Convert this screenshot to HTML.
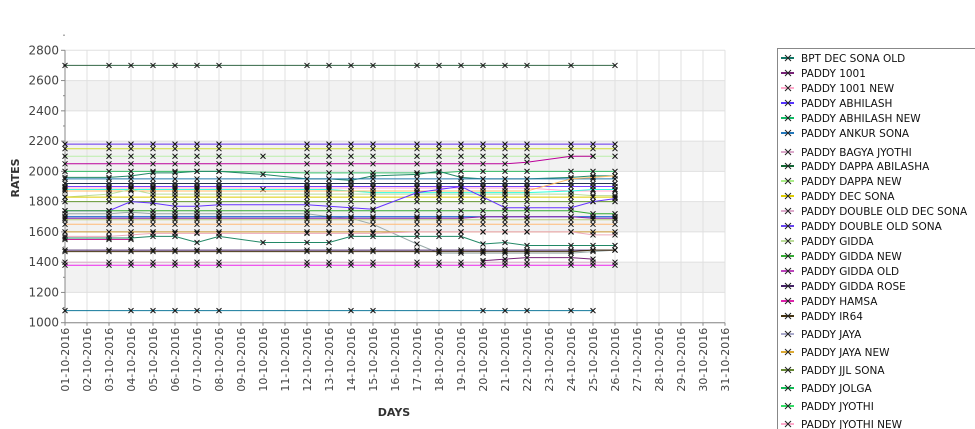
<!DOCTYPE html>
<html><head><meta charset="utf-8"><style>
body{margin:0;background:#fff;width:975px;height:429px;overflow:hidden;font-family:"DejaVu Sans","Liberation Sans",sans-serif}
svg{display:block}
</style></head><body>
<svg id="c" width="975" height="429"></svg>
<script>
const days=[1,3,4,5,6,7,8,10,12,13,14,15,17,18,19,20,21,22,24,25,26];
const xLabels=[];for(let d=1;d<=31;d++)xLabels.push((d<10?'0':'')+d+'-10-2016');
const yTicks=[1000,1200,1400,1600,1800,2000,2200,2400,2600,2800];
const n=null;
const seriesNames=["BPT DEC SONA OLD","PADDY 1001","PADDY 1001 NEW","PADDY ABHILASH","PADDY ABHILASH NEW","PADDY ANKUR SONA","PADDY BAGYA JYOTHI","PADDY DAPPA ABILASHA","PADDY DAPPA NEW","PADDY DEC SONA","PADDY DOUBLE OLD DEC SONA","PADDY DOUBLE OLD SONA","PADDY GIDDA","PADDY GIDDA NEW","PADDY GIDDA OLD","PADDY GIDDA ROSE","PADDY HAMSA","PADDY IR64","PADDY JAYA","PADDY JAYA NEW","PADDY JJL SONA","PADDY JOLGA","PADDY JYOTHI","PADDY JYOTHI NEW"];
const legendColors=["#117766","#772277","#ffaacc","#5533ff","#11bb66","#2277bb","#ddaacc","#116633","#aaee88","#ddcc00","#ddaacc","#6644ee","#bbdd99","#33aa33","#bb44bb","#442266","#dd22aa","#443311","#aaaacc","#ddaa33","#668833","#11bb55","#33dd66","#ffaacc"];
const s2700=[2700,2700,2700,2700,2700,2700,2700,n,2700,2700,2700,2700,2700,2700,2700,2700,2700,2700,2700,n,2700];
const s2180=[2180,2180,2180,2180,2180,2180,2180,n,2180,2180,2180,2180,2180,2180,2180,2180,2180,2180,2180,2180,2180];
const s2150=[2150,2150,2150,2150,2150,2150,2150,n,2150,2150,2150,2150,2150,2150,2150,2150,2150,2150,2150,2150,2150];
const s2100=[2100,2100,2100,2100,2100,2100,2100,2100,2100,2100,2100,2100,2100,2100,2100,2100,2100,2100,2100,2100,2100];
const s2050=[2050,2050,2050,2050,2050,2050,2050,n,2050,2050,2050,2050,2050,2050,2050,2050,2050,2060,2100,2100,n];
const s2000=[2000,2000,2000,2000,2000,2000,2000,n,1990,1990,1990,1990,1990,1990,2000,2000,2000,2000,2000,2000,2000];
const sTeal=[1960,1960,1970,1990,1990,2000,2000,1980,1950,1950,1940,1970,1980,2000,1960,1950,1950,1950,1960,1970,1970];
const s1950=[1950,1950,1950,1950,1950,1950,1950,n,1950,1950,1950,1950,1950,1950,1950,1950,1950,1950,1950,1950,1950];
const s1920=[1920,1920,1920,1920,1920,1920,1920,n,1920,1920,1920,1920,1920,1920,1920,1920,1920,1920,1920,1920,1920];
const s1900=[1900,1900,1900,1900,1900,1900,1900,n,1900,1900,1900,1900,1900,1900,1900,1900,1900,1900,1900,1900,1900];
const s1890=[1890,1890,1890,1890,1890,1890,1890,n,1890,1890,1890,1890,1890,1890,1890,1890,1890,1890,1870,1870,1870];
const s1880=[1880,1880,1880,1880,1880,1880,1880,1880,1880,1880,1870,1860,1860,1860,1860,1860,1860,1860,1870,1880,1880];
const s1870=[1870,1870,1870,1870,1870,1870,1870,n,1870,1870,1870,1870,1870,1870,1870,1870,1870,1870,1950,1960,1970];
const s1850=[1830,1850,1880,1850,1850,1850,1850,n,1850,1850,1850,1850,1850,1850,1850,1850,1850,1850,1850,1840,1840];
const s1830=[1830,1830,1830,1830,1830,1830,1830,n,1830,1830,1830,1830,1830,1830,1830,1830,1830,1830,1830,1830,1830];
const s1800=[1800,1800,1800,1800,1800,1800,1800,n,1800,1800,1800,1800,1800,1800,1800,1800,1800,1800,1800,1800,1800];
const sAbh=[1740,1740,1800,1790,1770,1770,1780,n,1780,1770,1760,1750,1860,1880,1900,1830,1760,1760,1760,1800,1820];
const s1740=[1740,1740,1740,1740,1740,1740,1740,n,1740,1740,1740,1740,1740,1740,1740,1740,1740,1740,1740,1720,1720];
const s1720=[1720,1720,1730,1720,1720,1720,1720,n,1720,1700,1690,1650,1520,1460,1460,1460,1460,1460,1460,1470,1480];
const s1700=[1700,1700,1700,1700,1700,1700,1700,n,1700,1700,1700,1700,1700,1700,1700,1700,1700,1700,1700,1700,1700];
const s1690=[1690,1690,1690,1690,1690,1690,1690,n,1690,1690,1690,1690,1690,1690,1690,1700,1700,1700,1700,1690,1690];
const s1680=[1680,1680,1680,1680,1680,1680,1680,n,1680,1680,1680,1680,1680,1680,1680,1680,1680,1680,1680,1680,1680];
const s1650=[1650,1650,1650,1650,1650,1650,1650,n,1650,1650,1650,1650,1650,1650,1650,1650,1650,1650,1650,1650,1650];
const s1600=[1600,1600,1600,1600,1600,1600,1600,n,1600,1600,1600,1600,1600,1600,1600,1600,1600,1600,1600,1600,1600];
const s1580=[1570,1570,1580,1590,1590,1590,1590,n,1590,1590,1590,1590,1600,1600,1600,1600,1600,1600,1600,1580,1580];
const s1550=[1550,1550,1550,n,n,n,n,n,n,n,n,n,n,n,n,n,n,n,n,n,n];
const sGreen=[1560,1560,1560,1570,1570,1530,1570,1530,1530,1530,1570,1570,1570,1570,1570,1520,1530,1510,1510,1510,1510];
const s1480=[1480,1480,1480,1480,1480,1480,1480,n,1480,1480,1480,1480,1480,1480,1480,1480,1480,1480,1480,1480,1480];
const s1470=[1470,1470,1470,1470,1470,1470,1470,n,1470,1470,1470,1470,1470,1470,1470,1470,1470,1470,1470,1480,1480];
const s1420=[n,n,n,n,n,n,n,n,n,n,n,n,n,n,n,1410,1420,1430,1430,1420,n];
const s1400=[1400,1400,1400,1400,1400,1400,1400,n,1400,1400,1400,1400,1400,1400,1400,1400,1400,1400,1400,1400,1400];
const s1380=[1380,1380,1380,1380,1380,1380,1380,n,1380,1380,1380,1380,1380,1380,1380,1380,1380,1380,1380,1380,1380];
const s1080=[1080,n,1080,1080,1080,1080,1080,n,n,n,1080,1080,n,n,n,1080,1080,1080,1080,1080,n];
const plotSeries=[[s2700,"#336644"],[s2180,"#6633ee"],[s2150,"#ccdd33"],[s2100,"#bbeeaa"],[s2050,"#bb0099"],[s2000,"#33bb66"],[sTeal,"#228866"],[s1950,"#2277aa"],[s1920,"#223355"],[s1900,"#7744ff"],[s1890,"#ffaacc"],[s1880,"#33ffdd"],[s1870,"#ffbb66"],[s1850,"#bbdd99"],[s1830,"#ddcc00"],[s1800,"#669933"],[sAbh,"#6633ff"],[s1740,"#33aa33"],[s1720,"#99aaaa"],[s1700,"#0055cc"],[s1690,"#8822aa"],[s1680,"#bbcc77"],[s1650,"#ffbb77"],[s1600,"#cc9933"],[s1580,"#eeaabb"],[s1550,"#cc2299"],[sGreen,"#228866"],[s1480,"#442266"],[s1470,"#443311"],[s1420,"#772277"],[s1400,"#ddaacc"],[s1380,"#ee22ee"],[s1080,"#117799"]];

const NS="http://www.w3.org/2000/svg",svg=document.getElementById('c');
const L=65,R=725,T=50.3,B=322.7;
const xS=d=>L+(d-1)*(R-L)/30, yS=v=>B-(v-1000)*(B-T)/1800;
function mk(t,a,p){const e=document.createElementNS(NS,t);for(const k in a)e.setAttribute(k,a[k]);(p||svg).appendChild(e);return e;}
for(let i=0;i<yTicks.length-1;i++){if(i%2===1){const r=mk('rect',{x:L,y:yS(yTicks[i+1]),width:R-L,height:yS(yTicks[i])-yS(yTicks[i+1]),fill:'#f2f2f2'});

}}
for(let d=1;d<=31;d++){const g=mk('line',{x1:xS(d),x2:xS(d),y1:T,y2:B,stroke:'#e0e0e0'});

}
yTicks.forEach(v=>{const g=mk('line',{x1:L,x2:R,y1:yS(v),y2:yS(v),stroke:'#e0e0e0'});


const t=mk('text',{x:L-6,y:yS(v)+4,'text-anchor':'end','font-size':12,fill:'#444'});t.textContent=v;


mk('line',{x1:L-4,x2:L,y1:yS(v),y2:yS(v),stroke:'#888'});
mk('line',{x1:L-2,x2:L,y1:yS(v+100),y2:yS(v+100),stroke:'#888'});});
xLabels.forEach((s,i)=>{const x=xS(i+1);mk('line',{x1:x,x2:x,y1:B,y2:B+3,stroke:'#888'});
const t=mk('text',{x:0,y:0,transform:`translate(${x+4},${B+5}) rotate(-90)`,'text-anchor':'end','font-size':11,fill:'#444'});t.textContent=s;

});
mk('line',{x1:L,x2:L,y1:T,y2:B,stroke:'#888'});mk('line',{x1:L,x2:R,y1:B,y2:B,stroke:'#888'});
plotSeries.forEach(([vals,col])=>{let d='';vals.forEach((v,i)=>{if(v==null){return;}d+=(d?'L':'M')+xS(days[i]).toFixed(1)+','+yS(v).toFixed(1);});
const p=mk('path',{d:d,fill:'none',stroke:col,'stroke-width':1});


vals.forEach((v,i)=>{if(v==null)return;const x=xS(days[i]),y=yS(v);
const m=mk('path',{d:`M${x-2.5},${y-2.5}L${x+2.5},${y+2.5}M${x-2.5},${y+2.5}L${x+2.5},${y-2.5}`,stroke:'#111','stroke-width':1});

});});
const yt=mk('text',{transform:'translate(19,178) rotate(-90)','text-anchor':'middle','font-size':11,'font-weight':'bold',fill:'#333'});yt.textContent='RATES';


const xt=mk('text',{x:394,y:416,'text-anchor':'middle','font-size':11,'font-weight':'bold',fill:'#333'});xt.textContent='DAYS';


const lg=mk('g',{});
mk('rect',{x:777.5,y:48.5,width:210,height:400,fill:'#fff',stroke:'#888'},lg);
const ly=[58,73,88,103,118,133,152,166,181,196,211,226,241,256,271,286,301,316,334,352,370,388,406,424];
seriesNames.forEach((nm,i)=>{const y=ly[i];const g=mk('g',{},lg);


mk('line',{x1:781,x2:794,y1:y,y2:y,stroke:legendColors[i],'stroke-width':2},g);
mk('path',{d:`M${785},${y-3}L${791},${y+3}M${785},${y+3}L${791},${y-3}`,stroke:'#222','stroke-width':1},g);
const t=mk('text',{x:801,y:y+4,'font-size':10.5,fill:'#111'},g);t.textContent=nm;});
</script>
</body></html>
